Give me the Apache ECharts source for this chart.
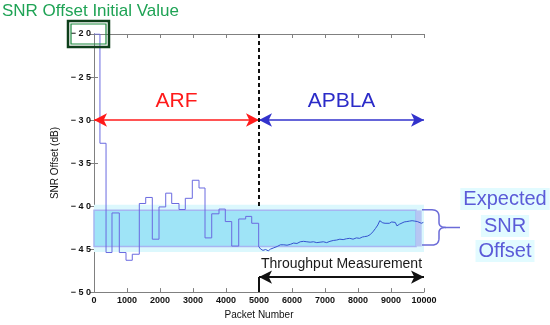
<!DOCTYPE html>
<html>
<head>
<meta charset="utf-8">
<script src="https://cdn.jsdelivr.net/npm/echarts@6/dist/echarts.min.js"></script>
<style>html,body{margin:0;padding:0;background:#fff}#c{width:550px;height:325px}</style>
</head>
<body>
<div id="c"></div>
<script>
// ---- data ----
const xTicks = [0,1000,2000,3000,4000,5000,6000,7000,8000,9000,10000];
const yTicks = [-50,-45,-40,-35,-30,-25,-20];
// ARF phase: step starts (packet number) and held SNR offset (dB)
const arfX = [0,180,365,545,767,970,1160,1373,1567,1767,1970,2173,2355,2576,2767,2979,3182,3364,3567,3788,3979,4173,4385,4597,4779,4990];
const arfY = [-20,-32.7,-45.4,-40.8,-45.4,-46.3,-45.6,-39.7,-39.0,-43.85,-40.1,-38.5,-39.7,-40.4,-39.1,-37.0,-37.9,-43.7,-40.9,-40.35,-41.8,-44.65,-41.5,-41.2,-42.0,-44.7];
// APBLA phase
const apblaX = [4990,5050,5120,5200,5280,5350,5450,5550,5650,5750,5850,5950,6050,6150,6250,6350,6450,6550,6650,6750,6850,6950,7050,7150,7250,7350,7450,7550,7650,7750,7850,7950,8050,8130,8200,8280,8360,8450,8530,8600,8660,8700,8750,8820,8880,8950,9020,9080,9130,9180,9220,9260,9320,9400,9480,9560,9640,9720,9800,9860,9920,9980];
const apblaY = [-44.7,-45.0,-45.15,-45.05,-45.2,-45.0,-44.85,-44.7,-44.5,-44.5,-44.55,-44.45,-44.3,-44.35,-44.15,-44.1,-44.15,-44.2,-44.15,-44.25,-44.2,-44.15,-44.25,-44.1,-44.0,-43.95,-43.85,-43.9,-43.8,-43.75,-43.85,-43.7,-43.75,-43.6,-43.55,-43.5,-43.35,-43.0,-42.6,-42.2,-41.7,-41.6,-41.95,-42.0,-41.95,-42.0,-41.85,-41.8,-41.9,-42.3,-42.45,-42.1,-41.9,-41.85,-41.8,-41.75,-41.7,-41.75,-41.8,-41.95,-42.0,-41.9];
// annotation values
const bandOuter = [-39.85, -45.35];
const bandInner = [-40.5, -44.7];
const bandInnerEnd = 9760;
const bandStripEnd = 9930;
const switchPacket = 5000;
const phaseArrowY = -30;
const dashedEndY = -40.3;
const measureArrowY = -48.25;

const FONT = 'Liberation Sans, Arial, sans-serif';
const chart = echarts.init(document.getElementById('c'), null, {renderer:'canvas'});

const fmtY = v => (v < 0 ? '\u2212 ' : '') + String(Math.abs(v)).split('').join(' ');

const axisLineGray = {show:true, lineStyle:{color:'#808080', width:1}};
const option = {
  animation:false,
  backgroundColor:'#fff',
  grid:{left:94, right:126, top:34, bottom:29, containLabel:false},
  xAxis:[{
    type:'value', min:0, max:10000, interval:1000,
    name:'Packet Number', nameLocation:'middle', nameGap:15,
    nameTextStyle:{fontFamily:FONT, fontSize:10, color:'#111'},
    axisLine:axisLineGray, axisTick:{inside:true, length:4, lineStyle:{color:'#808080'}},
    axisLabel:{fontFamily:FONT, fontSize:9, color:'#111', margin:4, fontWeight:'bold', formatter:v=>String(v)},
    splitLine:{show:false}
  },{
    type:'value', min:0, max:10000, interval:1000, position:'top',
    axisLine:axisLineGray, axisTick:{inside:true, length:4, lineStyle:{color:'#808080'}},
    axisLabel:{show:false}, splitLine:{show:false}
  }],
  yAxis:[{
    type:'value', min:-50, max:-20, interval:5,
    name:'SNR Offset (dB)', nameLocation:'middle', nameGap:23, nameRotate:90,
    nameTextStyle:{fontFamily:FONT, fontSize:10, color:'#111'},
    axisLine:axisLineGray, axisTick:{inside:true, length:4, lineStyle:{color:'#808080'}},
    axisLabel:{fontFamily:FONT, fontSize:9, fontWeight:'bold', color:'#111', margin:3, formatter:fmtY},
    splitLine:{show:false}
  },{
    type:'value', min:-50, max:-20, interval:5, position:'right',
    axisLine:axisLineGray, axisTick:{inside:true, length:4, lineStyle:{color:'#808080'}},
    axisLabel:{show:false}, splitLine:{show:false}
  }],
  series:[
    { // expected band
      type:'line', data:[], z:1, silent:true,
      markArea:{silent:true, data:[
        [{xAxis:0, yAxis:bandOuter[0], itemStyle:{color:'#dcf8fd'}},{xAxis:10000, yAxis:bandOuter[1]}],
        [{xAxis:0, yAxis:bandInner[0], itemStyle:{color:'#9fe4f7', borderColor:'#a7b5f2', borderWidth:1.5}},{xAxis:bandInnerEnd, yAxis:bandInner[1]}],
        [{xAxis:bandInnerEnd, yAxis:bandInner[0], itemStyle:{color:'#b6c6f3'}},{xAxis:bandStripEnd, yAxis:bandInner[1]}]
      ]}
    },
    { // ARF step line
      type:'line', step:'end', z:3, symbol:'none',
      data: arfX.map((x,i)=>[x, arfY[i]]),
      lineStyle:{color:'#6a6ae0', width:1}
    },
    { // APBLA line
      type:'line', z:3, symbol:'none',
      data: apblaX.map((x,i)=>[x, apblaY[i]]),
      lineStyle:{color:'#3553cf', width:1}
    },
    { // annotation lines
      type:'line', data:[], z:4,
      markLine:{silent:true, label:{show:false}, data:[
        [{coord:[0,phaseArrowY], symbol:'arrow', symbolSize:[10,13], lineStyle:{color:'#ff1a1a', width:1.5, type:'solid'}, itemStyle:{color:'#ff1a1a'}},
         {coord:[switchPacket,phaseArrowY], symbol:'arrow', symbolSize:[10,13]}],
        [{coord:[switchPacket,phaseArrowY], symbol:'arrow', symbolSize:[10,13], lineStyle:{color:'#3232cc', width:1.5, type:'solid'}, itemStyle:{color:'#3232cc'}},
         {coord:[10000,phaseArrowY], symbol:'arrow', symbolSize:[10,13]}],
        [{coord:[switchPacket,-20], symbol:'none', lineStyle:{color:'#111', width:2, type:[4,3]}},
         {coord:[switchPacket,dashedEndY], symbol:'none'}],
        [{coord:[switchPacket,measureArrowY], symbol:'arrow', symbolSize:[10,13], lineStyle:{color:'#111', width:2, type:'solid'}, itemStyle:{color:'#111'}},
         {coord:[10000,measureArrowY], symbol:'arrow', symbolSize:[10,13]}],
        [{coord:[switchPacket,measureArrowY], symbol:'none', lineStyle:{color:'#111', width:2, type:'solid'}},
         {coord:[switchPacket,-50], symbol:'none'}]
      ]}
    }
  ]
};
chart.setOption(option);

const P = (x,y) => chart.convertToPixel({xAxisIndex:0, yAxisIndex:0}, [x,y]);
const pArf = P(switchPacket/2, phaseArrowY);
const pApb = P((switchPacket+10000)/2, phaseArrowY);
const pMeas = P((switchPacket+10000)/2, measureArrowY);
const pTop = P(0, -20);
const pRightIn = P(10000, bandInner[0]);
const pRightOut = P(10000, bandInner[1]);
const bx = pRightIn[0], by0 = pRightIn[1] - 0.5, by1 = pRightOut[1] - 1.5, bm = (by0+by1)/2;

// build curly-brace polyline
function quad(p0, c, p1, n) {
  const out = [];
  for (let i = 1; i <= n; i++) {
    const t = i / n, u = 1 - t;
    out.push([u*u*p0[0] + 2*u*t*c[0] + t*t*p1[0], u*u*p0[1] + 2*u*t*c[1] + t*t*p1[1]]);
  }
  return out;
}
const xs = bx + 15;
let brace = [[bx-2, by0], [bx+8, by0]];
brace = brace.concat(quad([bx+8,by0],[xs,by0],[xs,by0+7],8));
brace.push([xs, bm-5]);
brace = brace.concat(quad([xs,bm-5],[xs,bm],[bx+22,bm],8));
brace.push([bx+36, bm]);
let brace2 = [[bx+22, bm]];
brace2 = brace2.concat(quad([bx+22,bm],[xs,bm],[xs,bm+5],8));
brace2.push([xs, by1-7]);
brace2 = brace2.concat(quad([xs,by1-7],[xs,by1],[bx+8,by1],8));
brace2.push([bx-2, by1]);

const expText = (t, y) => ({type:'text', x:505, y:y, z:10,
  style:{text:t, fill:'#5b5bd8', font:`20px ${FONT}`, align:'center', verticalAlign:'middle', backgroundColor:'#e2fbff', padding:[1,3]}});

chart.setOption({graphic:[
  {type:'text', x:pArf[0], y:pArf[1]-19, z:10, style:{text:'ARF', fill:'#ff1a1a', font:`21px ${FONT}`, align:'center', verticalAlign:'middle'}},
  {type:'text', x:pApb[0], y:pApb[1]-19, z:10, style:{text:'APBLA', fill:'#2b2bc8', font:`21px ${FONT}`, align:'center', verticalAlign:'middle'}},
  {type:'text', x:pMeas[0], y:pMeas[1]-13, z:10, style:{text:'Throughput Measurement', fill:'#1a1a1a', font:`14px ${FONT}`, align:'center', verticalAlign:'middle'}},
  {type:'text', x:2, y:11, z:10, style:{text:'SNR Offset Initial Value', fill:'#1fa355', font:`17px ${FONT}`, align:'left', verticalAlign:'middle'}},
  {type:'rect', x:pTop[0]-26, y:pTop[1]-13, z:10, shape:{width:41, height:26}, style:{fill:'none', stroke:'#0d3f1a', lineWidth:2.5}},
  {type:'rect', x:pTop[0]-23, y:pTop[1]-10, z:10, shape:{width:35, height:20}, style:{fill:'none', stroke:'#1c8a3e', lineWidth:1.2}},
  {type:'polyline', z:10, shape:{points:brace}, style:{fill:null, stroke:'#6b6bd8', lineWidth:1.5}},
  {type:'polyline', z:10, shape:{points:brace2}, style:{fill:null, stroke:'#6b6bd8', lineWidth:1.5}},
  expText('Expected', 199),
  expText('SNR', 226),
  expText('Offset', 251)
]});
</script>
</body>
</html>
